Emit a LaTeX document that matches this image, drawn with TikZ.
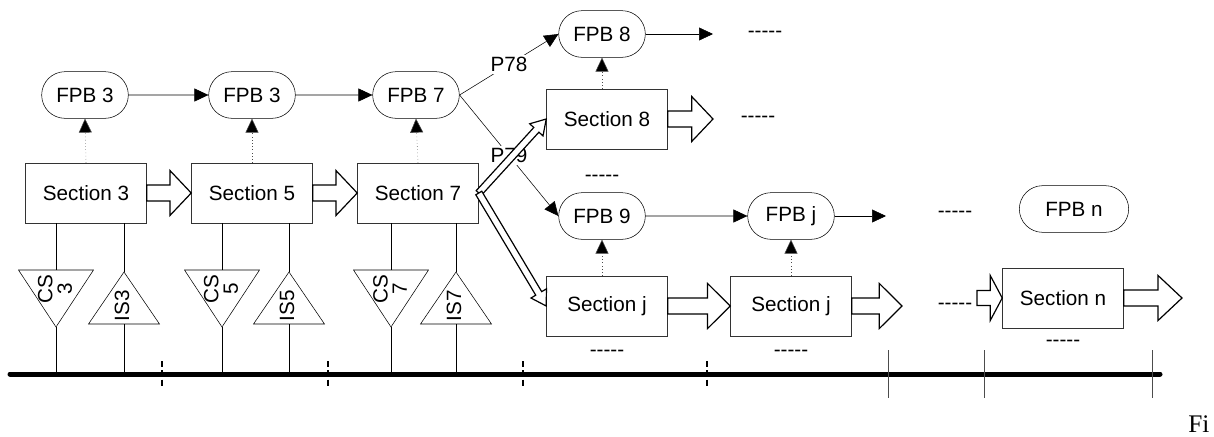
\documentclass[tikz,border=0pt]{standalone}
\usepackage{fontspec}
\setmainfont{Liberation Sans}
\newfontfamily\capfont{Liberation Serif}
\usetikzlibrary{calc}
\usetikzlibrary{arrows.meta}
\usetikzlibrary{shapes.misc}

\tikzset{
  fpb/.style={rounded rectangle, draw, minimum width=65pt, minimum height=35pt, inner sep=0pt},
  sec/.style={rectangle, draw=black!80, fill=white, minimum width=90.75pt, minimum height=45pt, inner sep=0pt},
  tritext/.style={rotate=90, align=center, inner sep=0pt, font=\fontsize{15.5}{14.5}\selectfont},
  arr/.style={-{Triangle[length=10.5pt,width=9.75pt]}},
  dotarr/.style={dotted, black!70, -{Triangle[length=10.5pt,width=9.75pt,fill=black]}},
  fat/.style={draw, fill=white, line width=0.9pt, line join=miter},
  bus/.style={line width=3.75pt, line cap=round},
  dots/.style={inner sep=0pt}
}

\newcommand{\dashline}{\mbox{-}\mbox{-}\mbox{-}\mbox{-}\mbox{-}}

% fat hollow arrow: from, to, half shaft, half head, head length
\newcommand{\fatarrow}[5]{%
  \coordinate (fah) at ($(#2)!#5!(#1)$);
  \draw[fat] ($(#1)!#3!90:(#2)$) -- ($(fah)!#3!90:(#2)$) -- ($(fah)!#4!90:(#2)$) -- (#2)
    -- ($(fah)!#4!-90:(#2)$) -- ($(fah)!#3!-90:(#2)$) -- ($(#1)!#3!-90:(#2)$) -- cycle;}

\begin{document}
\begin{tikzpicture}[x=0.75pt,y=-0.75pt,font=\fontsize{15.5}{18}\selectfont]

\useasboundingbox (0,0) rectangle (1214,436);

% flow path blocks
\node[fpb] (f3) at (85,95) {FPB 3};
\node[fpb] (f5) at (252,95) {FPB 3};
\node[fpb] (f7) at (416,95) {FPB 7};
\node[fpb] (f8) at (602,34) {FPB 8};
\node[fpb] (f9) at (602,216) {FPB 9};
\node[fpb] (fj) at (791,216) {FPB j};
\node[fpb, minimum width=82pt] (fn) at (1074,209) {FPB n};

\coordinate (f8out) at (713,34);
\coordinate (fjout) at (886,216);

\draw[arr] (f3) -- (f5);
\draw[arr] (f5) -- (f7);
\draw[arr] (f9) -- (fj);
\draw[arr] (f8.east) -- (f8out);
\draw[arr] (fj.east) -- (fjout);

\draw[arr] (f7.east) -- node[fill=white, inner sep=1.5pt] {P78} (f8.west);
\draw[arr] (f7.east) -- node[fill=white, inner sep=1.5pt] {P79} (f9.west);

% sections
\node[sec] (s3) at (86,193) {Section 3};
\node[sec] (s5) at (252,193) {Section 5};
\node[sec] (s7) at (418,193) {Section 7};
\node[sec] (s8) at (607,119) {Section 8};
\node[sec] (sj1) at (607,306) {Section j};
\node[sec] (sj2) at (791,306) {Section j};
\node[sec] (sn) at (1063,298) {Section n};

\draw[dotarr] (s3.north) -- (f3.south);
\draw[dotarr] (s5.north) -- (f5.south);
\draw[dotarr] (s7.north) -- (f7.south);
\draw[dotarr] (f8.south |- s8.north) -- (f8.south);
\draw[dotarr] (f9.south |- sj1.north) -- (f9.south);
\draw[dotarr] (fj.south |- sj2.north) -- (fj.south);

\coordinate (s8out) at (713,119);
\coordinate (sj2out) at (902,306);
\coordinate (snin) at (977,298);
\coordinate (snout) at (1182,298);

\fatarrow{s3.east}{s5.west}{6pt}{16.9pt}{16pt}
\fatarrow{s5.east}{s7.west}{6pt}{16.9pt}{16pt}
\fatarrow{s8.east}{s8out}{6pt}{16.9pt}{16pt}
\fatarrow{sj1.east}{sj2.west}{6pt}{16.9pt}{17pt}
\fatarrow{sj2.east}{sj2out}{6pt}{16.9pt}{17pt}
\fatarrow{snin}{sn.west}{5.6pt}{16.9pt}{9pt}
\fatarrow{sn.east}{snout}{6pt}{16.9pt}{18pt}
\fatarrow{s7.east}{s8.west}{2.6pt}{6.75pt}{11pt}
\fatarrow{s7.east}{sj1.west}{2.6pt}{6.75pt}{11pt}

% dashes
\node[dots] (d1) at (765,34) {\dashline};
\node[dots] (d2) at (758,119) {\dashline};
\node[dots] (d3) at (602,178) {\dashline};
\node[dots] (d4) at (955,214) {\dashline};
\node[dots] (d5) at (955,306) {\dashline};
\node[dots] (d6) at (607,353) {\dashline};
\node[dots] (d7) at (791,353) {\dashline};
\node[dots] (d8) at (1063,343) {\dashline};

% bus
\coordinate (busL) at (10,374);
\coordinate (busR) at (1160,374);

% sensors
\foreach \n/\s/\c/\i in {3/s3/56/124,5/s5/222/289,7/s7/391/456}{
  \coordinate (cs\n top) at (\c,270);
  \coordinate (cs\n tip) at (\c,327);
  \coordinate (is\n tip) at (\i,272);
  \coordinate (is\n base) at (\i,324);
  \draw ($(cs\n top)+(-37.5,0)$) -- ($(cs\n top)+(37.5,0)$) -- (cs\n tip) -- cycle;
  \draw (is\n tip) -- ($(is\n base)+(35.5,0)$) -- ($(is\n base)+(-35.5,0)$) -- cycle;
  \node[tritext] (cs\n t) at (\c-1,289) {CS\\\n};
  \node[tritext] (is\n t) at (\i-2,306) {IS\n};
  \draw (cs\n top |- \s.south) -- (cs\n top);
  \draw (is\n tip |- \s.south) -- (is\n tip);
  \draw (cs\n tip) -- (cs\n tip |- busL);
  \draw (is\n base) -- (is\n base |- busL);
}

\draw[bus] (busL) -- (busR);
\foreach \x in {162,328,523,707}{
  \draw[dashed, line width=1.1pt, dash pattern=on 4.5pt off 2.5pt] (\x,361) -- (\x,387);
}
\foreach \x in {888,984,1152}{
  \draw[black!70] (\x,350) -- (\x,398);
}

\node[anchor=base west, inner sep=0pt, font=\capfont\fontsize{19}{22}\selectfont] (cap) at (1188,432) {Fi};

\end{tikzpicture}
\end{document}
